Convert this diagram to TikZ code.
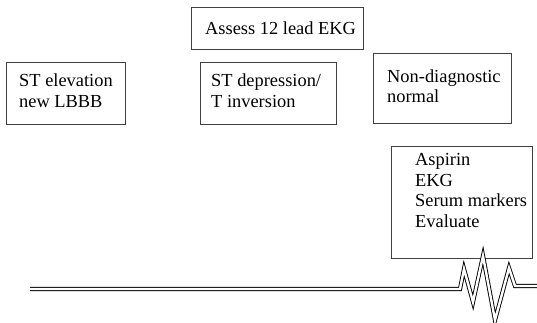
\documentclass[tikz,border=0pt]{standalone}
\usepackage{fontspec}
\setmainfont{Liberation Serif}
\begin{document}
\begin{tikzpicture}[x=1pt,y=-1pt,
  boxnode/.style={draw=black!75, line width=0.8pt, rectangle, inner sep=0pt, anchor=north west},
  txt/.style={anchor=base west, inner sep=0pt, font=\fontsize{18.4}{21}\selectfont},
  trace/.style={draw=black, line width=0.9pt, double=white, double distance=2.4pt, line join=miter}]
\useasboundingbox (0,0) rectangle (537,323);
% boxes
\node[boxnode, minimum width=172pt, minimum height=42pt] (assess) at (191,7) {};
\node[boxnode, minimum width=119pt, minimum height=62pt] (elev) at (6,62) {};
\node[boxnode, minimum width=136pt, minimum height=62pt] (depr) at (200,62) {};
\node[boxnode, minimum width=138pt, minimum height=70pt] (nondiag) at (373,53) {};
\node[boxnode, minimum width=141pt, minimum height=112pt] (asp) at (391,146) {};
% texts
\node[txt] (t1) at (205,35) {Assess 12 lead EKG};
\node[txt] (t2) at (19,87) {ST elevation};
\node[txt] (t3) at (19,108) {new LBBB};
\node[txt] (t4) at (211,87) {ST depression/};
\node[txt] (t5) at (211,108) {T inversion};
\node[txt] (t6) at (387,83) {Non-diagnostic};
\node[txt] (t7) at (387,103) {normal};
\node[txt] (t8) at (415,165) {Aspirin};
\node[txt] (t9) at (415,186) {EKG};
\node[txt] (t10) at (415,206) {Serum markers};
\node[txt] (t11) at (415,227) {Evaluate};
% ECG trace
\coordinate (s0) at (30,289);
\coordinate (s1) at (460,289);
\coordinate (s2) at (464,269);
\coordinate (s3) at (473,302);
\coordinate (s4) at (483,256);
\coordinate (s5) at (495,320);
\coordinate (s6) at (509,268);
\coordinate (s7) at (515,286);
\coordinate (s8) at (537,286);
\draw[trace] (s0) -- (s1) -- (s2) -- (s3) -- (s4) -- (s5) -- (s6) -- (s7) -- (s8);
\end{tikzpicture}
\end{document}
